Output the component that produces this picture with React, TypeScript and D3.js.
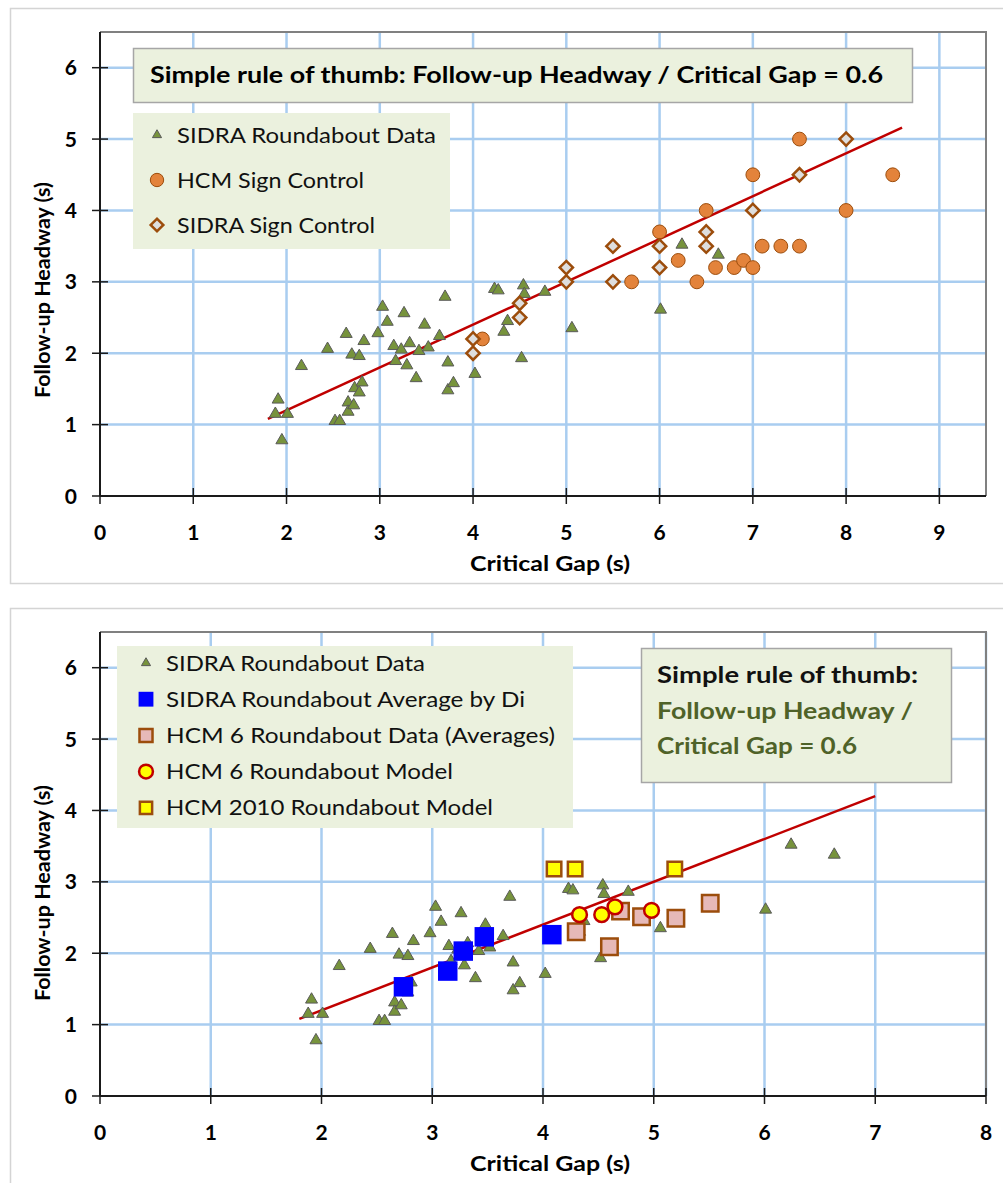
import React, { useEffect, useRef } from "react";
import * as d3 from "d3";

// [critical gap, follow-up headway] pairs
const sidraRoundabout: [number, number][] = [
  [1.88, 1.15], [1.91, 1.35], [1.95, 0.78], [2.01, 1.15], [2.16, 1.82],
  [2.44, 2.06], [2.52, 1.05], [2.57, 1.05], [2.64, 2.27], [2.66, 1.31],
  [2.66, 1.18], [2.7, 1.98], [2.72, 1.27], [2.73, 1.51], [2.78, 1.96],
  [2.78, 1.45], [2.81, 1.59], [2.83, 2.17], [2.98, 2.28], [3.03, 2.65],
  [3.08, 2.44], [3.15, 2.1], [3.17, 1.89], [3.23, 2.05], [3.26, 2.56],
  [3.29, 1.83], [3.32, 2.14], [3.39, 1.65], [3.42, 2.03], [3.48, 2.4],
  [3.52, 2.08], [3.64, 2.24], [3.7, 2.79], [3.73, 1.87], [3.73, 1.48],
  [3.79, 1.58], [4.02, 1.71], [4.23, 2.9], [4.27, 2.88], [4.33, 2.3],
  [4.37, 2.45], [4.52, 1.93], [4.54, 2.95], [4.55, 2.83], [4.77, 2.86],
  [5.06, 2.35], [6.01, 2.61], [6.24, 3.52], [6.63, 3.38],
];
const hcmSign: [number, number][] = [
  [4.1, 2.2], [5.7, 3.0], [6.0, 3.7], [6.2, 3.3], [6.4, 3.0], [6.5, 4.0],
  [6.6, 3.2], [6.8, 3.2], [6.9, 3.3], [7.0, 3.2], [7.0, 4.5], [7.1, 3.5],
  [7.3, 3.5], [7.5, 3.5], [7.5, 5.0], [8.0, 4.0], [8.5, 4.5],
];
const sidraSign: [number, number][] = [
  [4.0, 2.0], [4.0, 2.2], [4.5, 2.5], [4.5, 2.7], [5.0, 3.0], [5.0, 3.2],
  [5.5, 3.0], [5.5, 3.5], [6.0, 3.2], [6.0, 3.5], [6.5, 3.5], [6.5, 3.7],
  [7.0, 4.0], [7.5, 4.5], [8.0, 5.0],
];
const sidraAvgByDi: [number, number][] = [
  [2.74, 1.53], [3.14, 1.75], [3.28, 2.03], [3.47, 2.23], [4.08, 2.26],
];
const hcm6Data: [number, number][] = [
  [4.3, 2.3], [4.6, 2.09], [4.7, 2.59], [4.89, 2.51], [5.2, 2.49], [5.51, 2.7],
];
const hcm6Model: [number, number][] = [
  [4.33, 2.54], [4.53, 2.54], [4.65, 2.65], [4.98, 2.6],
];
const hcm2010Model: [number, number][] = [
  [4.1, 3.18], [4.29, 3.18], [5.19, 3.18],
];
const trendTop: [number, number][] = [[1.8, 1.08], [8.6, 5.16]];
const trendBottom: [number, number][] = [[1.8, 1.08], [7.0, 4.2]];

const xTicksTop = [0, 1, 2, 3, 4, 5, 6, 7, 8, 9];
const xTicksBottom = [0, 1, 2, 3, 4, 5, 6, 7, 8];
const yTicks = [0, 1, 2, 3, 4, 5, 6];

const legendTop = ["SIDRA Roundabout Data", "HCM Sign Control", "SIDRA Sign Control"];
const legendBottom = [
  "SIDRA Roundabout Data",
  "SIDRA Roundabout Average by Di",
  "HCM 6 Roundabout Data (Averages)",
  "HCM 6 Roundabout Model",
  "HCM 2010 Roundabout Model",
];
const ruleTop = "Simple rule of thumb: Follow-up Headway / Critical Gap = 0.6";
const ruleBottom = ["Simple rule of thumb:", "Follow-up Headway /", "Critical Gap = 0.6"];

const FONT = "Lato, 'Open Sans', sans-serif";
const GRID = "#a9cdf0";
const BOXFILL = "#ebf1de";
const BROWN = "#9c4d0c";

type Style = { shape: string; size: number; fill: string; stroke: string; sw: number };

const styles: Record<string, Style> = {
  tri: { shape: "tri", size: 62, fill: "#77933c", stroke: "#5a5a5a", sw: 1 },
  orange: { shape: "circle", size: 150, fill: "#e3833b", stroke: BROWN, sw: 1 },
  diamond: { shape: "diamond", size: 88, fill: "#dedede", stroke: BROWN, sw: 2.5 },
  blue: { shape: "square", size: 380, fill: "#0000ff", stroke: "none", sw: 0 },
  pink: { shape: "square", size: 270, fill: "#e6b9b8", stroke: BROWN, sw: 2.5 },
  yellowCircle: { shape: "circle", size: 170, fill: "#ffff00", stroke: "#c00000", sw: 2.5 },
  yellowSquare: { shape: "square", size: 210, fill: "#ffff00", stroke: BROWN, sw: 2.5 },
};

function symbolPath(s: Style, size?: number) {
  const type =
    s.shape === "tri" ? d3.symbolTriangle :
    s.shape === "circle" ? d3.symbolCircle : d3.symbolSquare;
  return d3.symbol().type(type).size(size || s.size)() as string;
}

function addMarkers(g, data, s: Style, x, y) {
  g.append("g")
    .selectAll("path")
    .data(data)
    .join("path")
    .attr("d", symbolPath(s))
    .attr("transform", (d) =>
      `translate(${x(d[0])},${y(d[1])})` + (s.shape === "diamond" ? " rotate(45)" : ""))
    .attr("fill", s.fill)
    .attr("stroke", s.stroke)
    .attr("stroke-width", s.sw);
}

// text squeezed/stretched to the width it has in the picture
function fitText(sel, width: number) {
  return sel.attr("textLength", width).attr("lengthAdjust", "spacingAndGlyphs");
}

function drawPanel(svg, cfg) {
  const x = d3.scaleLinear().domain([0, cfg.xMax]).range([cfg.left, cfg.right]);
  const y = d3.scaleLinear().domain([0, 6.5]).range([cfg.bottom, cfg.top]);
  const g = svg.append("g");

  g.append("rect")
    .attr("x", 10.5).attr("y", cfg.frameTop + 0.5)
    .attr("width", 1010).attr("height", cfg.frameH)
    .attr("fill", "#fff").attr("stroke", "#d4d4d4").attr("stroke-width", 1.5);

  // grid
  g.append("g").selectAll("line")
    .data(cfg.xTicks.filter((d) => d > 0))
    .join("line")
    .attr("x1", (d) => x(d)).attr("x2", (d) => x(d))
    .attr("y1", cfg.top).attr("y2", cfg.bottom)
    .attr("stroke", GRID).attr("stroke-width", 2.5);
  g.append("g").selectAll("line")
    .data(yTicks.filter((d) => d > 0))
    .join("line")
    .attr("x1", cfg.left).attr("x2", cfg.right)
    .attr("y1", (d) => y(d)).attr("y2", (d) => y(d))
    .attr("stroke", GRID).attr("stroke-width", 2.5);

  // plot border top / right
  g.append("path")
    .attr("d", `M${cfg.left},${cfg.top}H${cfg.right}V${cfg.bottom}`)
    .attr("fill", "none").attr("stroke", "#808080").attr("stroke-width", 2);

  // axes with crossing ticks
  g.append("line")
    .attr("x1", cfg.left).attr("x2", cfg.right)
    .attr("y1", cfg.bottom).attr("y2", cfg.bottom)
    .attr("stroke", "#1a1a1a").attr("stroke-width", 2);
  g.append("line")
    .attr("x1", cfg.left).attr("x2", cfg.left)
    .attr("y1", cfg.top).attr("y2", cfg.bottom)
    .attr("stroke", "#1a1a1a").attr("stroke-width", 2);
  g.append("g").selectAll("line")
    .data(cfg.xTicks)
    .join("line")
    .attr("x1", (d) => x(d)).attr("x2", (d) => x(d))
    .attr("y1", cfg.bottom - 8).attr("y2", cfg.bottom + 8)
    .attr("stroke", "#1a1a1a").attr("stroke-width", 1.5);
  g.append("g").selectAll("line")
    .data(yTicks)
    .join("line")
    .attr("x1", cfg.left - 8).attr("x2", cfg.left + 8)
    .attr("y1", (d) => y(d)).attr("y2", (d) => y(d))
    .attr("stroke", "#1a1a1a").attr("stroke-width", 1.5);

  // tick labels
  g.append("g").selectAll("text")
    .data(yTicks)
    .join("text")
    .attr("x", 77).attr("y", (d) => y(d)).attr("dy", "0.36em")
    .attr("text-anchor", "end")
    .style("font", `bold 21px ${FONT}`)
    .text((d) => d);
  g.append("g").selectAll("text")
    .data(cfg.xTicks)
    .join("text")
    .attr("x", (d) => x(d)).attr("y", cfg.bottom + 36).attr("dy", "0.36em")
    .attr("text-anchor", "middle")
    .style("font", `bold 21px ${FONT}`)
    .text((d) => d);

  // axis titles
  fitText(g.append("text")
    .attr("x", 470).attr("y", cfg.bottom + 67).attr("dy", "0.36em")
    .style("font", `bold 21px ${FONT}`)
    .text("Critical Gap (s)"), 160);
  fitText(g.append("text")
    .attr("transform", `translate(42,${cfg.yTitleMid + 108}) rotate(-90)`)
    .attr("dy", "0.36em")
    .style("font", `bold 21px ${FONT}`)
    .text("Follow-up Headway (s)"), 216);

  // trend line
  const line = d3.line().x((d) => x(d[0])).y((d) => y(d[1]));
  g.append("path")
    .attr("d", line(cfg.trend))
    .attr("fill", "none").attr("stroke", "#c00000").attr("stroke-width", 2.5);

  cfg.series.forEach((s) => addMarkers(g, s.data, s.style, x, y));

  // legend
  const lg = g.append("g");
  lg.append("rect")
    .attr("x", cfg.legend.x).attr("y", cfg.legend.y)
    .attr("width", cfg.legend.w).attr("height", cfg.legend.h)
    .attr("fill", BOXFILL);
  cfg.series.forEach((s, i) => {
    const cy = cfg.legend.rowY + i * cfg.legend.step;
    lg.append("path")
      .attr("d", symbolPath(s.style, s.legendSize))
      .attr("transform", `translate(${cfg.legend.mx},${cy})` + (s.style.shape === "diamond" ? " rotate(45)" : ""))
      .attr("fill", s.style.fill)
      .attr("stroke", s.style.stroke)
      .attr("stroke-width", s.style.sw);
    fitText(lg.append("text")
      .attr("x", cfg.legend.tx).attr("y", cy).attr("dy", "0.36em")
      .style("font", `21px ${FONT}`)
      .attr("fill", "#111")
      .text(cfg.legendLabels[i]), cfg.legendWidths[i]);
  });

  return g;
}

export default function App() {
  const ref = useRef<SVGSVGElement>(null);

  useEffect(() => {
    const svg = d3.select(ref.current);
    svg.selectAll("*").remove();

    drawPanel(svg, {
      frameTop: 8, frameH: 575,
      left: 100, right: 986, top: 32, bottom: 496, xMax: 9.5,
      xTicks: xTicksTop, yTitleMid: 290, trend: trendTop,
      series: [
        { data: sidraRoundabout, style: styles.tri, legendSize: 36 },
        { data: hcmSign, style: styles.orange, legendSize: 140 },
        { data: sidraSign, style: styles.diamond, legendSize: 80 },
      ],
      legendLabels: legendTop,
      legendWidths: [259, 187, 198],
      legend: { x: 133, y: 113, w: 317, h: 136, rowY: 135, step: 45, mx: 157, tx: 177 },
    });

    // title box on the upper panel
    svg.append("rect")
      .attr("x", 133.5).attr("y", 48.5).attr("width", 779).attr("height", 54)
      .attr("fill", BOXFILL).attr("stroke", "#a6a6a6").attr("stroke-width", 1.5);
    fitText(svg.append("text")
      .attr("x", 150).attr("y", 75).attr("dy", "0.36em")
      .style("font", `bold 22px ${FONT}`)
      .text(ruleTop), 733);

    drawPanel(svg, {
      frameTop: 608, frameH: 600,
      left: 100, right: 986, top: 632, bottom: 1096, xMax: 8,
      xTicks: xTicksBottom, yTitleMid: 893, trend: trendBottom,
      series: [
        { data: sidraRoundabout, style: styles.tri, legendSize: 36 },
        { data: sidraAvgByDi, style: styles.blue, legendSize: 220 },
        { data: hcm6Data, style: styles.pink, legendSize: 170 },
        { data: hcm6Model, style: styles.yellowCircle, legendSize: 150 },
        { data: hcm2010Model, style: styles.yellowSquare, legendSize: 150 },
      ],
      legendLabels: legendBottom,
      legendWidths: [259, 359, 389, 287, 327],
      legend: { x: 117, y: 646, w: 456, h: 182, rowY: 663, step: 36.2, mx: 146, tx: 166 },
    });

    svg.append("rect")
      .attr("x", 641.5).attr("y", 648.5).attr("width", 310).attr("height", 134)
      .attr("fill", BOXFILL).attr("stroke", "#a6a6a6").attr("stroke-width", 1.5);
    const boxLines = [
      { c: "#111", y: 675, w: 261 },
      { c: "#4f6228", y: 711, w: 256 },
      { c: "#4f6228", y: 746, w: 200 },
    ];
    boxLines.forEach((d, i) => {
      fitText(svg.append("text")
        .attr("x", 657).attr("y", d.y).attr("dy", "0.36em")
        .attr("fill", d.c)
        .style("font", `bold 23px ${FONT}`)
        .text(ruleBottom[i]), d.w);
    });
  }, []);

  return (
    <svg
      ref={ref}
      width={1003}
      height={1183}
      style={{ position: "absolute", left: 0, top: 0, background: "#fff" }}
    />
  );
}
